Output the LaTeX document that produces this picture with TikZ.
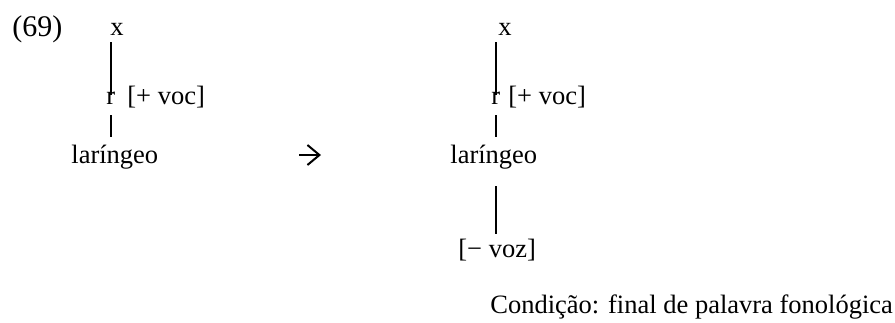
\documentclass[tikz,border=0pt]{standalone}
\usepackage{fontspec}
\setmainfont{Liberation Serif}
\usetikzlibrary{arrows.meta}
\tikzset{
  lbl/.style={inner sep=0pt, anchor=base west, font=\fontsize{13.25pt}{16pt}\selectfont},
  tie/.style={line width=0.7pt}
}
\begin{document}
\begin{tikzpicture}[x=0.5pt,y=-0.5pt]
\useasboundingbox (0,0) rectangle (895,322);
\node[lbl, font=\fontsize{15pt}{18pt}\selectfont] (num) at (12,36) {(69)};
\node[lbl] (xL) at (110,35) {x};
\node[lbl] (rL) at (106,104) {r};
\node[lbl] (vocL) at (127,104) {[+ voc]};
\node[lbl] (larL) at (71,163) {laríngeo};
\coordinate (arrS) at (299,155);
\coordinate (arrE) at (321,155);
\draw[line width=1pt, -{Straight Barb[length=6pt,width=10pt]}] (arrS) -- (arrE);
\node[lbl] (xR) at (498,35) {x};
\node[lbl] (rR) at (491,104) {r};
\node[lbl] (vocR) at (508,104) {[+ voc]};
\node[lbl] (larR) at (450,163) {laríngeo};
\node[lbl] (vozR) at (458,257) {[− voz]};
\node[lbl] (cond) at (490,313) {Condição: final de palavra fonológica};
\draw[tie, shorten <=3.5pt, shorten >=-2pt] (xL.south -| rL.north) -- (rL.north);
\draw[tie, shorten <=5.5pt, shorten >=3.5pt] (rL.south) -- (rL.south |- larL.north);
\draw[tie, shorten <=3.5pt, shorten >=-2pt] (xR.south -| rR.north) -- (rR.north);
\draw[tie, shorten <=5.5pt, shorten >=3.5pt] (rR.south) -- (rR.south |- larR.north);
\draw[tie, shorten <=8.5pt, shorten >=2.25pt] (larR.south -| rR.south) -- (rR.south |- vozR.north);
\end{tikzpicture}
\end{document}
